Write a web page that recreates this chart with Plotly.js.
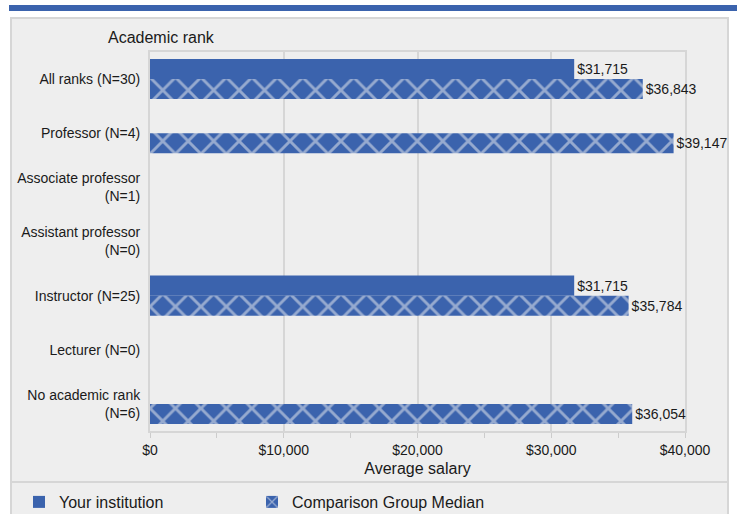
<!DOCTYPE html>
<html>
<head>
<meta charset="utf-8">
<script src="https://cdn.plot.ly/plotly-3.0.1.min.js"></script>
<style>html,body{margin:0;padding:0;background:#fff;}#chart{width:737px;height:514px;}</style>
</head>
<body>
<div id="chart"></div>
<script>
var categories = ["All ranks (N=30)", "Professor (N=4)", "Associate professor<br>(N=1)", "Assistant professor<br>(N=0)", "Instructor (N=25)", "Lecturer (N=0)", "No academic rank<br>(N=6)"];
var yourInstitution = [31715, null, null, null, 31715, null, null];
var comparisonMedian = [36843, 39147, null, null, 35784, null, 36054];
var seriesNames = ["Your institution", "Comparison Group Median"];
var xTickVals = [0, 10000, 20000, 30000, 40000];
var xTickText = ["$0", "$10,000", "$20,000", "$30,000", "$40,000"];

var W = 737, H = 514;
var mL = 150, mR = 52, mT = 52, mB = 83;
var pw = W - mL - mR, ph = H - mT - mB;
function px(x) { return (x - mL) / pw; }
function py(y) { return (H - mB - y) / ph; }

var blue = '#3b63ad';
var font = 'Liberation Sans, Arial, sans-serif';

var traces = [
  {
    type: 'bar', orientation: 'h', name: seriesNames[0],
    y: categories, x: yourInstitution,
    marker: {color: blue, line: {width: 0}},
    texttemplate: '$%{x:,}', textposition: 'outside', constraintext: 'none', cliponaxis: false,
    textfont: {family: font, size: 14, color: '#1a1a1a'},
    hoverinfo: 'x'
  },
  {
    type: 'bar', orientation: 'h', name: seriesNames[1],
    y: categories, x: comparisonMedian,
    marker: {color: blue, line: {width: 0},
      pattern: {shape: 'x', fillmode: 'overlay', fgcolor: '#f2f2f2', size: 18, solidity: 0.3}},
    texttemplate: '$%{x:,}', textposition: 'outside', constraintext: 'none', cliponaxis: false,
    textfont: {family: font, size: 14, color: '#1a1a1a'},
    hoverinfo: 'x'
  }
];

var layout = {
  width: W, height: H,
  margin: {l: mL, r: mR, t: mT, b: mB, autoexpand: false},
  paper_bgcolor: '#ffffff',
  plot_bgcolor: 'rgba(0,0,0,0)',
  font: {family: font, color: '#1a1a1a', size: 14},
  barmode: 'group', bargap: 0.26, bargroupgap: 0,
  separators: '.,',
  xaxis: {
    range: [0, 40000], tickvals: xTickVals, ticktext: xTickText,
    showgrid: true, gridcolor: '#d6d6d6', gridwidth: 2,
    zeroline: false, showline: true, mirror: true, linecolor: '#d6d6d6', linewidth: 2,
    layer: 'below traces',
    ticks: 'outside', ticklen: 5, tickcolor: '#cccccc', tickwidth: 1,
    minor: {dtick: 5000, ticks: 'outside', ticklen: 5, tickcolor: '#cccccc', showgrid: false},
    tickfont: {family: font, size: 14, color: '#1a1a1a'},
    title: {text: 'Average salary', font: {family: font, size: 16, color: '#1a1a1a'}, standoff: 6},
    fixedrange: true
  },
  yaxis: {
    autorange: 'reversed', type: 'category',
    showgrid: false, zeroline: false, showline: true, mirror: true, linecolor: '#d6d6d6', linewidth: 2,
    layer: 'below traces',
    ticks: '', ticklabelstandoff: 5,
    tickfont: {family: font, size: 14, color: '#1a1a1a'},
    fixedrange: true
  },
  showlegend: true,
  legend: {
    orientation: 'h', x: px(19), xanchor: 'left', y: py(502), yanchor: 'middle',
    font: {family: font, size: 16, color: '#1a1a1a'},
    entrywidth: 188, entrywidthmode: 'pixels',
    bgcolor: 'rgba(0,0,0,0)', traceorder: 'normal'
  },
  annotations: [
    {text: 'Academic rank', xref: 'paper', yref: 'paper', x: px(106), y: py(38),
     xanchor: 'left', yanchor: 'middle', showarrow: false,
     font: {family: font, size: 16, color: '#1a1a1a'}}
  ],
  shapes: [
    {type: 'rect', xref: 'paper', yref: 'paper', layer: 'below',
     x0: px(11), x1: px(728), y0: py(530), y1: py(18),
     fillcolor: '#eeeeee', line: {color: '#d6d6d6', width: 2}},
    {type: 'rect', xref: 'paper', yref: 'paper', layer: 'below',
     x0: px(9), x1: px(740), y0: py(11), y1: py(5),
     fillcolor: blue, line: {width: 0}},
    {type: 'line', xref: 'paper', yref: 'paper', layer: 'below',
     x0: px(11), x1: px(728), y0: py(482), y1: py(482),
     line: {color: '#d6d6d6', width: 2}}
  ]
};

Plotly.newPlot('chart', traces, layout, {staticPlot: true, displayModeBar: false});
</script>
</body>
</html>
